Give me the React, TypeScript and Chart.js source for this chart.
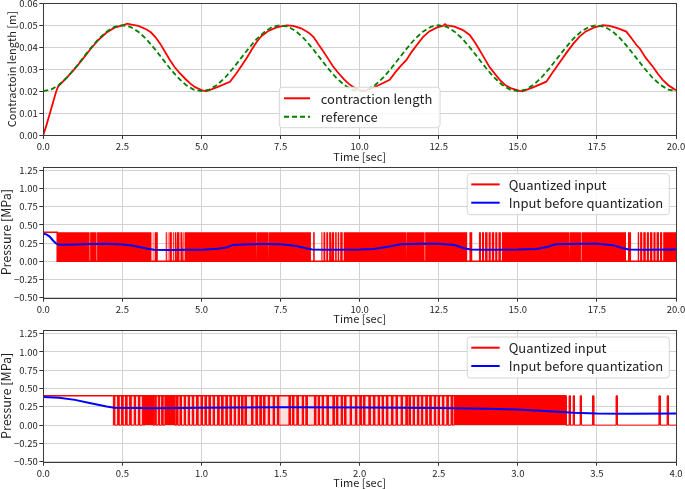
import { useEffect, useRef } from 'react';
import { Chart, registerables } from 'chart.js';

Chart.register(...registerables);

const FONT = '"Noto Sans CJK JP", "Noto Sans", sans-serif';
const GRID = '#d2d2d2';
const INK = '#222222';

// ---------- Panel 1: contraction length ----------
const REFERENCE: [number, number][] = [
  [0, 0.02], [0.25, 0.0207], [0.5, 0.0229], [0.75, 0.0262], [1, 0.0304], [1.25, 0.035], [1.5, 0.0396], [1.75, 0.0438],
  [2, 0.0471], [2.25, 0.0493], [2.5, 0.05], [2.75, 0.0493], [3, 0.0471], [3.25, 0.0438], [3.5, 0.0396], [3.75, 0.035],
  [4, 0.0304], [4.25, 0.0262], [4.5, 0.0229], [4.75, 0.0207], [5, 0.02], [5.25, 0.0207], [5.5, 0.0229], [5.75, 0.0262],
  [6, 0.0304], [6.25, 0.035], [6.5, 0.0396], [6.75, 0.0438], [7, 0.0471], [7.25, 0.0493], [7.5, 0.05], [7.75, 0.0493],
  [8, 0.0471], [8.25, 0.0438], [8.5, 0.0396], [8.75, 0.035], [9, 0.0304], [9.25, 0.0262], [9.5, 0.0229], [9.75, 0.0207],
  [10, 0.02], [10.25, 0.0207], [10.5, 0.0229], [10.75, 0.0262], [11, 0.0304], [11.25, 0.035], [11.5, 0.0396], [11.75, 0.0438],
  [12, 0.0471], [12.25, 0.0493], [12.5, 0.05], [12.75, 0.0493], [13, 0.0471], [13.25, 0.0438], [13.5, 0.0396], [13.75, 0.035],
  [14, 0.0304], [14.25, 0.0262], [14.5, 0.0229], [14.75, 0.0207], [15, 0.02], [15.25, 0.0207], [15.5, 0.0229], [15.75, 0.0262],
  [16, 0.0304], [16.25, 0.035], [16.5, 0.0396], [16.75, 0.0438], [17, 0.0471], [17.25, 0.0493], [17.5, 0.05], [17.75, 0.0493],
  [18, 0.0471], [18.25, 0.0438], [18.5, 0.0396], [18.75, 0.035], [19, 0.0304], [19.25, 0.0262], [19.5, 0.0229], [19.75, 0.0207],
  [20, 0.02],
];

const CONTRACTION: [number, number][] = [
  [0, 0], [0.1, 0.0045], [0.2, 0.0095], [0.3, 0.0145], [0.4, 0.0195], [0.47, 0.0222], [0.75, 0.0263], [1.0, 0.0302],
  [1.25, 0.0347], [1.5, 0.0393], [1.75, 0.0434], [2.0, 0.0467], [2.25, 0.0489], [2.5, 0.0499], [2.65, 0.0507], [2.75, 0.0504],
  [3.0, 0.0497], [3.25, 0.0482], [3.4, 0.0468], [3.55, 0.0445], [3.7, 0.0415], [3.85, 0.0378], [4.0, 0.0342], [4.15, 0.031],
  [4.3, 0.0284], [4.5, 0.0254], [4.65, 0.0234], [4.8, 0.0218], [5.0, 0.0205], [5.15, 0.0199],
  [5.5, 0.0218], [5.9, 0.0242], [6.1, 0.028], [6.3, 0.0322], [6.45, 0.0355], [6.6, 0.0392], [6.75, 0.0425], [6.9, 0.0451],
  [7.1, 0.0473], [7.35, 0.0489], [7.55, 0.0496], [7.7, 0.0499], [7.9, 0.0497], [8.15, 0.0486], [8.4, 0.0465], [8.55, 0.0445],
  [8.7, 0.0412], [8.85, 0.0382], [9.0, 0.0348], [9.15, 0.0314], [9.3, 0.0287], [9.5, 0.0255], [9.65, 0.0234], [9.8, 0.0218],
  [10.0, 0.0205], [10.15, 0.0199],
  [10.5, 0.022], [10.95, 0.0251], [11.15, 0.029], [11.3, 0.0315], [11.48, 0.0342], [11.65, 0.038], [11.85, 0.0418], [12.0, 0.0446],
  [12.2, 0.0472], [12.45, 0.049], [12.63, 0.0497], [12.7, 0.0505], [12.75, 0.0499], [13.0, 0.0494], [13.25, 0.0479], [13.48, 0.0456],
  [13.65, 0.042], [13.79, 0.0387], [13.95, 0.0348], [14.1, 0.0311], [14.25, 0.0283], [14.43, 0.0251], [14.6, 0.0228], [14.8, 0.0212],
  [15.05, 0.0201], [15.15, 0.0199],
  [15.5, 0.0218], [15.9, 0.0243], [16.1, 0.0285], [16.3, 0.0326], [16.53, 0.0373], [16.75, 0.0415], [16.95, 0.0448], [17.15, 0.0472],
  [17.4, 0.0489], [17.69, 0.05], [17.9, 0.0497], [18.15, 0.0487], [18.43, 0.0471], [18.6, 0.044], [18.75, 0.041], [18.85, 0.0395],
  [19.05, 0.035], [19.27, 0.0311], [19.42, 0.028], [19.58, 0.0251], [19.75, 0.0228], [19.95, 0.0208], [20.0, 0.0205],
];

// ---------- Panels 2 & 3: pressure ----------
const Q_HIGH = 0.4; // quantized "on" pressure [MPa]
const Q_LOW = 0;
const SWITCH_START = 0.44; // time the switching starts [sec]

// Panel 2: intervals where the quantized input stays low (white gaps in the dense switching)
const P2_GAPS: [number, number][] = [
  [1.465, 1.48], [1.685, 1.7],
  [3.42, 3.46], [3.48, 3.52], [3.62, 3.87], [3.905, 3.935], [3.955, 3.985], [4.065, 4.095], [4.125, 4.155],
  [4.195, 4.225], [4.305, 4.335], [4.385, 4.415], [4.435, 4.465],
  [6.735, 6.75], [7.105, 7.12],
  [8.46, 8.53], [8.58, 8.79], [8.825, 8.855], [8.915, 8.945], [9.005, 9.035], [9.095, 9.125], [9.195, 9.225],
  [9.275, 9.305], [9.355, 9.385], [9.465, 9.495],
  [11.475, 11.49], [12.055, 12.07],
  [13.4, 13.47], [13.56, 13.77], [13.835, 13.865], [13.935, 13.965], [14.045, 14.075], [14.145, 14.175],
  [14.255, 14.285], [14.355, 14.385], [14.465, 14.495],
  [16.625, 16.64], [16.995, 17.01],
  [18.42, 18.48], [18.58, 18.79], [18.835, 18.865], [18.935, 18.965], [19.045, 19.075], [19.145, 19.175],
  [19.255, 19.285], [19.355, 19.385], [19.465, 19.495], [19.565, 19.595],
];

const P2_INPUT: [number, number][] = [
  [0, 0.38], [0.1, 0.37], [0.2, 0.34], [0.3, 0.29], [0.4, 0.245], [0.5, 0.226], [1.0, 0.232], [1.5, 0.238], [2.0, 0.24],
  [2.5, 0.232], [2.8, 0.218], [3.0, 0.2], [3.3, 0.172], [3.5, 0.158], [4.0, 0.157], [4.5, 0.158], [5.0, 0.16],
  [5.5, 0.172], [5.8, 0.19], [6.0, 0.225], [6.5, 0.236], [7.0, 0.238], [7.5, 0.236], [8.0, 0.21], [8.3, 0.18],
  [8.5, 0.162], [9.0, 0.16], [10.0, 0.162], [10.45, 0.168], [10.9, 0.2], [11.3, 0.235], [12.0, 0.24], [12.5, 0.24],
  [13.0, 0.225], [13.3, 0.18], [13.5, 0.162], [14.0, 0.16], [15.0, 0.162], [15.6, 0.17], [15.95, 0.2], [16.2, 0.235],
  [17.0, 0.24], [17.5, 0.24], [18.0, 0.222], [18.3, 0.182], [18.5, 0.162], [19.0, 0.16], [20.0, 0.162],
];

// Panel 3: single switching pulses (centre times) and long "on" runs
const P3_PULSES: number[] = [
  0.447, 0.474, 0.499, 0.524, 0.55, 0.579, 0.605, 0.63, 0.708, 0.731, 0.752, 0.846, 0.868, 0.895, 0.92, 0.946,
  0.973, 1.001, 1.026, 1.051, 1.078, 1.106, 1.131, 1.158, 1.184, 1.211, 1.236, 1.257, 1.279, 1.32, 1.348, 1.373,
  1.396, 1.426, 1.457, 1.484, 1.557, 1.579, 1.607, 1.641, 1.664, 1.718, 1.742, 1.767, 1.797, 1.835, 1.857, 1.887,
  1.908, 1.944, 1.977, 2.005, 2.028, 2.062, 2.091, 2.121, 2.146, 2.173, 2.205, 2.234, 2.266, 2.296, 2.316, 2.342,
  2.369, 2.394, 2.422, 2.447, 2.476, 2.5, 2.527, 2.555, 2.582, 3.328, 3.354, 3.398, 3.476, 3.625, 3.896, 3.948,
];
const P3_RUNS: [number, number][] = [[0.64, 0.695], [0.769, 0.832], [2.597, 3.306]];
const PULSE_DURATION = 0.008;
const DENSE_END = 3.306;

const P3_INPUT: [number, number][] = [
  [0, 0.385], [0.1, 0.375], [0.2, 0.345], [0.3, 0.3], [0.4, 0.255], [0.45, 0.236], [0.7, 0.232], [1.0, 0.236],
  [1.5, 0.244], [2.0, 0.242], [2.5, 0.234], [2.8, 0.224], [3.0, 0.212], [3.2, 0.19], [3.35, 0.17], [3.5, 0.158],
  [3.7, 0.157], [4.0, 0.16],
];

// ---------- helpers ----------
const pts = (arr: [number, number][]) => arr.map(([x, y]) => ({ x, y }));

function complement(gaps: [number, number][], start: number, end: number): [number, number][] {
  const out: [number, number][] = [];
  let cur = start;
  for (const [a, b] of gaps) {
    if (a > cur) out.push([cur, a]);
    cur = b;
  }
  if (cur < end) out.push([cur, end]);
  return out;
}

function stepSignal(on: [number, number][], start: number, end: number) {
  const p: { x: number; y: number }[] = [{ x: start, y: Q_LOW }];
  for (const [a, b] of on) {
    p.push({ x: a, y: Q_LOW }, { x: a, y: Q_HIGH }, { x: b, y: Q_HIGH }, { x: b, y: Q_LOW });
  }
  p.push({ x: end, y: Q_LOW });
  return p;
}

const fmt = (v: number, d: number) => v.toFixed(d).replace('-', '\u2212');

const frameLegend = {
  id: 'frameLegend',
  afterDraw(chart: any, _a: any, o: any) {
    const { ctx, chartArea: a } = chart;
    ctx.save();
    ctx.strokeStyle = '#3a3a3a';
    ctx.lineWidth = 1;
    ctx.strokeRect(Math.round(a.left) + 0.5, Math.round(a.top) + 0.5, Math.round(a.right - a.left), Math.round(a.bottom - a.top));
    if (o && o.items) {
      ctx.font = `${o.fontSize}px ${FONT}`;
      const tw = Math.max(...o.items.map((i: any) => ctx.measureText(i.label).width));
      const w = o.padL + o.sample + o.gap + tw + o.padR;
      const h = o.padT + o.rowH * (o.items.length - 1) + o.padB;
      const x0 = o.right != null ? a.right - o.right - w : a.left + o.left;
      const y0 = a.top + o.top;
      ctx.beginPath();
      ctx.roundRect(x0, y0, w, h, 3);
      ctx.fillStyle = 'rgba(255,255,255,0.85)';
      ctx.fill();
      ctx.strokeStyle = '#d6d6d6';
      ctx.stroke();
      o.items.forEach((it: any, i: number) => {
        const y = y0 + o.padT + i * o.rowH;
        ctx.strokeStyle = it.color;
        ctx.lineWidth = 2;
        ctx.setLineDash(it.dash || []);
        ctx.beginPath();
        ctx.moveTo(x0 + o.padL, y);
        ctx.lineTo(x0 + o.padL + o.sample, y);
        ctx.stroke();
        ctx.setLineDash([]);
        ctx.fillStyle = INK;
        ctx.textBaseline = 'middle';
        ctx.textAlign = 'left';
        ctx.fillText(it.label, x0 + o.padL + o.sample + o.gap, y + 0.5);
      });
    }
    ctx.restore();
  },
};

function xAxis(max: number, step: number, height: number) {
  return {
    type: 'linear',
    min: 0,
    max,
    ticks: {
      stepSize: step,
      autoSkip: false,
      maxRotation: 0,
      includeBounds: false,
      font: { family: FONT, size: 9.5 },
      color: INK,
      padding: 1.5,
      callback: (v: any) => fmt(Number(v), 1),
    },
    grid: { color: GRID, lineWidth: 1, tickColor: '#333', tickLength: 4 },
    border: { display: false },
    title: {
      display: true,
      text: 'Time [sec]',
      font: { family: FONT, size: 11, lineHeight: 1 },
      color: INK,
      padding: { top: 0, bottom: 0.5 },
    },
    afterFit: (s: any) => {
      s.height = height;
      s.paddingLeft = 0;
      s.paddingRight = 0;
    },
  };
}

function yAxis(min: number, max: number, step: number, title: string, tSize: number, tPad: number) {
  return {
    type: 'linear',
    min,
    max,
    ticks: {
      stepSize: step,
      autoSkip: false,
      includeBounds: false,
      font: { family: FONT, size: 9.5 },
      color: INK,
      padding: 1.5,
      callback: (v: any) => fmt(Number(v), 2),
    },
    grid: { color: GRID, lineWidth: 1, tickColor: '#333', tickLength: 4 },
    border: { display: false },
    title: {
      display: true,
      text: title,
      font: { family: FONT, size: tSize, lineHeight: 1 },
      color: INK,
      padding: { top: tPad, bottom: 0 },
    },
    afterFit: (s: any) => {
      s.width = 43.3;
      s.paddingTop = 0;
      s.paddingBottom = 0;
    },
  };
}

const baseOpts = (top: number, legend: any, x: any, y: any) => ({
  responsive: false,
  animation: false,
  events: [],
  layout: { padding: { left: 0, right: 9, top, bottom: 0 } },
  plugins: { legend: { display: false }, tooltip: { enabled: false }, frameLegend: legend },
  scales: { x, y },
  elements: { point: { radius: 0 }, line: { tension: 0 } },
});

const pressureLegend = {
  items: [
    { label: 'Quantized input', color: '#ff0000' },
    { label: 'Input before quantization', color: '#0000ff' },
  ],
  fontSize: 13,
  right: 6.7,
  top: 7,
  padL: 4,
  sample: 28.4,
  gap: 9,
  padR: 6,
  padT: 10.7,
  rowH: 18.3,
  padB: 12,
};

function config1(): any {
  return {
    type: 'line',
    data: {
      datasets: [
        { label: 'contraction length', data: pts(CONTRACTION), borderColor: '#ff0000', borderWidth: 1.8, order: 1 },
        { label: 'reference', data: pts(REFERENCE), borderColor: '#008000', borderWidth: 1.8, borderDash: [5, 3], order: 0 },
      ],
    },
    options: baseOpts(
      3.3,
      {
        items: [
          { label: 'contraction length', color: '#ff0000' },
          { label: 'reference', color: '#008000', dash: [5, 3] },
        ],
        fontSize: 13,
        left: 236,
        top: 84,
        padL: 4.7,
        sample: 26,
        gap: 10.7,
        padR: 7.7,
        padT: 11,
        rowH: 18.4,
        padB: 11,
      },
      xAxis(20, 2.5, 28),
      yAxis(0, 0.06, 0.01, 'Contractoin length [m]', 11, 6),
    ),
    plugins: [frameLegend],
  };
}

function config2(): any {
  const on = complement(P2_GAPS, SWITCH_START, 20);
  return {
    type: 'line',
    data: {
      datasets: [
        {
          label: 'Quantized input',
          data: [
            { x: 0, y: Q_HIGH },
            { x: SWITCH_START, y: Q_HIGH },
            { x: SWITCH_START, y: Q_LOW },
            { x: 20, y: Q_LOW },
          ],
          borderColor: '#ff0000',
          borderWidth: 1.5,
          order: 2,
        },
        { label: 'Input before quantization', data: pts(P2_INPUT), borderColor: '#0000ff', borderWidth: 2, order: 0 },
        {
          label: 'Quantized input (switching)',
          data: stepSignal(on, SWITCH_START, 20),
          borderColor: 'rgba(0,0,0,0)',
          borderWidth: 0,
          backgroundColor: '#ff0000',
          fill: { value: 0 },
          order: 1,
        },
      ],
    },
    options: baseOpts(3.7, pressureLegend, xAxis(20, 2.5, 27.3), yAxis(-0.5, 1.3, 0.25, 'Pressure [MPa]', 12.5, 0)),
    plugins: [frameLegend],
  };
}

function config3(): any {
  const on: [number, number][] = [
    ...P3_PULSES.map((c) => [c - PULSE_DURATION / 2, c + PULSE_DURATION / 2] as [number, number]),
    ...P3_RUNS,
  ].sort((a, b) => a[0] - b[0]);
  return {
    type: 'line',
    data: {
      datasets: [
        {
          label: 'Quantized input',
          data: [
            { x: 0, y: Q_HIGH },
            { x: SWITCH_START, y: Q_HIGH },
          ],
          borderColor: '#ff0000',
          borderWidth: 1.5,
          order: 3,
        },
        { label: 'Input before quantization', data: pts(P3_INPUT), borderColor: '#0000ff', borderWidth: 2, order: 0 },
        {
          label: 'Quantized input (switching)',
          data: stepSignal(on, SWITCH_START, 4),
          borderColor: '#ff0000',
          borderWidth: 1,
          backgroundColor: '#ff0000',
          fill: { value: 0 },
          order: 1,
        },
        {
          label: 'Quantized input (dense envelope)',
          data: [
            { x: SWITCH_START, y: Q_HIGH },
            { x: DENSE_END, y: Q_HIGH },
          ],
          borderColor: '#ff0000',
          borderWidth: 1.5,
          backgroundColor: 'rgba(255,0,0,0.13)',
          fill: { value: 0 },
          order: 2,
        },
      ],
    },
    options: baseOpts(5, pressureLegend, xAxis(4, 0.5, 27.3), yAxis(-0.5, 1.3, 0.25, 'Pressure [MPa]', 12.5, 0)),
    plugins: [frameLegend],
  };
}

export default function App() {
  const r1 = useRef<HTMLCanvasElement>(null);
  const r2 = useRef<HTMLCanvasElement>(null);
  const r3 = useRef<HTMLCanvasElement>(null);
  useEffect(() => {
    const c1 = new Chart(r1.current as HTMLCanvasElement, config1());
    const c2 = new Chart(r2.current as HTMLCanvasElement, config2());
    const c3 = new Chart(r3.current as HTMLCanvasElement, config3());
    return () => {
      c1.destroy();
      c2.destroy();
      c3.destroy();
    };
  }, []);
  const cs = (top: number, h: number): any => ({ position: 'absolute', left: 0, top, width: 685, height: h, display: 'block' });
  return (
    <div style={{ position: 'fixed', left: 0, top: 0, width: 685, height: 489, background: '#fff', overflow: 'hidden' }}>
      <canvas ref={r1} width={685} height={163} style={cs(0, 163)} />
      <canvas ref={r2} width={685} height={162} style={cs(163, 162)} />
      <canvas ref={r3} width={685} height={164} style={cs(325, 164)} />
    </div>
  );
}
